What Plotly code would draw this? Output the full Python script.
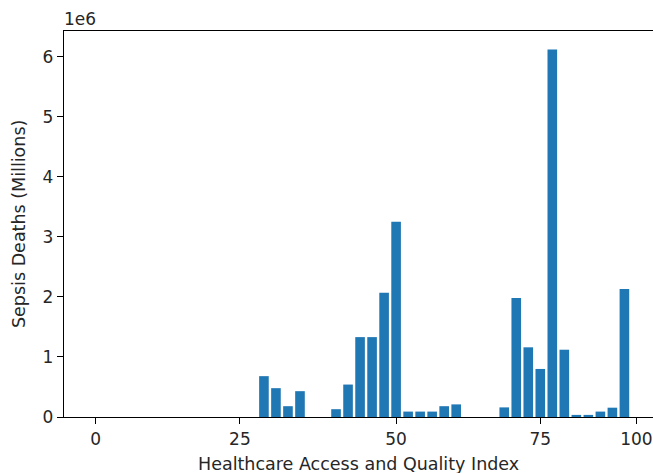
import plotly.graph_objects as go

# Bar slot positions (45 slots) and sepsis deaths per slot
slots = list(range(45))
deaths = [
    0, 0, 0, 0, 0, 0, 0, 0, 0, 0,
    0, 0, 0, 0, 680000, 480000, 180000, 430000, 0, 0,
    130000, 540000, 1330000, 1330000, 2070000, 3250000, 90000, 90000, 90000, 180000,
    210000, 0, 0, 0, 160000, 1980000, 1160000, 800000, 6120000, 1120000,
    35000, 35000, 90000, 155000, 2130000,
]

# Axis ticks
x_tick_pos = [0, 12, 25, 37, 45]
x_tick_labels = ["0", "25", "50", "75", "100"]
y_tick_vals = [0, 1e6, 2e6, 3e6, 4e6, 5e6, 6e6]
y_tick_labels = ["0", "1", "2", "3", "4", "5", "6"]

FONT = "DejaVu Sans"
TXT = "#262626"
FS = 17
TITLE_FS = 17.5

fig = go.Figure(
    go.Bar(
        x=slots,
        y=deaths,
        marker=dict(color="#1f77b4", line=dict(width=0)),
    )
)

fig.update_layout(
    width=653,
    height=473,
    margin=dict(l=64, r=0, t=31, b=56),
    plot_bgcolor="white",
    paper_bgcolor="white",
    bargap=0.2,
    showlegend=False,
    font=dict(family=FONT, size=FS, color=TXT),
)

axis_common = dict(
    ticks="outside",
    ticklen=6,
    tickwidth=1.3,
    tickcolor="black",
    showline=True,
    linecolor="black",
    linewidth=1.3,
    showgrid=False,
    zeroline=False,
    tickfont=dict(family=FONT, size=FS, color=TXT),
)

fig.update_xaxes(
    range=[-2.64, 46.38],
    tickvals=x_tick_pos,
    ticktext=x_tick_labels,
    mirror=True,
    **axis_common,
)

fig.update_yaxes(
    range=[0, 6.426e6],
    tickvals=y_tick_vals,
    ticktext=y_tick_labels,
    mirror=False,
    **axis_common,
)

fig.add_annotation(
    text="Healthcare Access and Quality Index",
    xref="paper", yref="paper", x=0.5, y=0,
    xanchor="center", yanchor="middle", yshift=-47,
    showarrow=False, font=dict(family=FONT, size=TITLE_FS, color=TXT),
)
fig.add_annotation(
    text="Sepsis Deaths (Millions)",
    xref="paper", yref="paper", x=0, y=0.5,
    xanchor="center", yanchor="middle", xshift=-45, textangle=-90,
    showarrow=False, font=dict(family=FONT, size=TITLE_FS, color=TXT),
)
fig.add_annotation(
    text="1e6",
    xref="paper", yref="paper", x=0, y=1,
    xanchor="left", yanchor="bottom", yshift=0, xshift=-2,
    showarrow=False, font=dict(family=FONT, size=FS, color=TXT),
)

fig.write_html("out.html")
